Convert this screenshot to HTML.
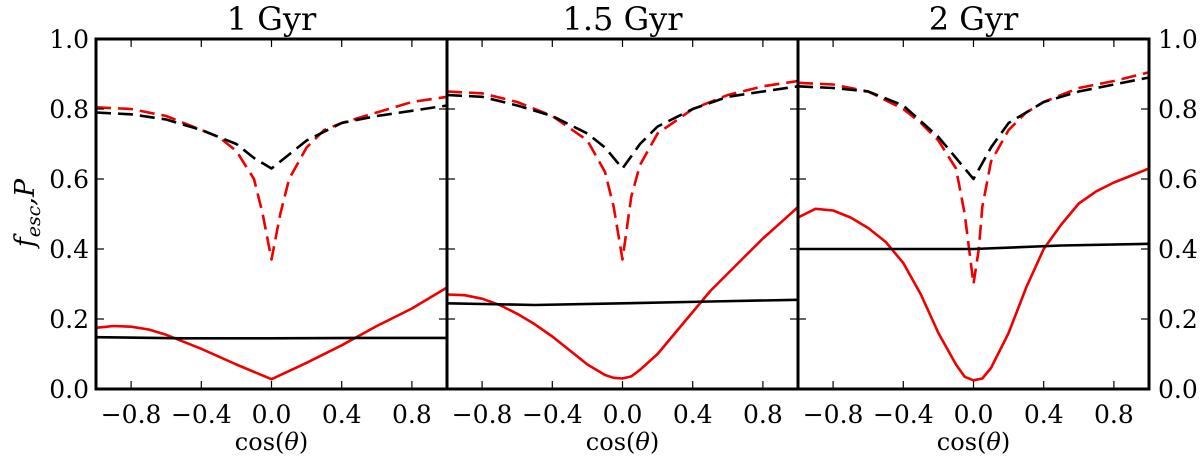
<!DOCTYPE html>
<html><head><meta charset="utf-8"><style>
body{margin:0;background:#fff}
svg{display:block}
text{font-family:"DejaVu Serif","Liberation Serif",serif;fill:#000}
</style></head><body>
<svg id="chart" width="1200" height="461" xmlns="http://www.w3.org/2000/svg"></svg>
<script>
const panelTitles=["1 Gyr","1.5 Gyr","2 Gyr"];
const xTicks=[-0.8,-0.4,0.0,0.4,0.8];
const yTicks=[0.0,0.2,0.4,0.6,0.8,1.0];
// panel 1
const p1RedDashX=[-1,-0.8,-0.6,-0.4,-0.3,-0.2,-0.1,-0.05,0,0.05,0.1,0.2,0.3,0.4,0.6,0.8,1];
const p1RedDashY=[0.805,0.80,0.78,0.74,0.72,0.68,0.60,0.50,0.37,0.50,0.60,0.69,0.74,0.76,0.79,0.82,0.835];
const p1BlkDashX=[-1,-0.8,-0.6,-0.4,-0.2,-0.1,0,0.1,0.2,0.4,0.6,0.8,1];
const p1BlkDashY=[0.79,0.785,0.77,0.74,0.70,0.66,0.63,0.67,0.71,0.76,0.78,0.795,0.81];
const p1RedX=[-1,-0.9,-0.8,-0.7,-0.6,-0.4,-0.2,0,0.2,0.4,0.6,0.8,1];
const p1RedY=[0.175,0.18,0.178,0.17,0.155,0.115,0.07,0.028,0.075,0.125,0.18,0.23,0.29];
const p1BlkX=[-1,-0.5,0,0.5,1];
const p1BlkY=[0.148,0.145,0.145,0.146,0.146];
// panel 2
const p2RedDashX=[-1,-0.8,-0.6,-0.4,-0.2,-0.1,-0.05,0,0.05,0.1,0.2,0.4,0.6,0.8,1];
const p2RedDashY=[0.85,0.845,0.82,0.78,0.71,0.62,0.52,0.37,0.55,0.64,0.73,0.80,0.84,0.865,0.88];
const p2BlkDashX=[-1,-0.8,-0.6,-0.4,-0.2,-0.1,0,0.1,0.2,0.4,0.6,0.8,1];
const p2BlkDashY=[0.84,0.835,0.81,0.78,0.73,0.69,0.63,0.70,0.75,0.80,0.835,0.85,0.865];
const p2RedX=[-1,-0.9,-0.8,-0.7,-0.6,-0.5,-0.4,-0.3,-0.2,-0.1,-0.05,0,0.05,0.1,0.2,0.3,0.4,0.5,0.6,0.7,0.8,0.9,1];
const p2RedY=[0.27,0.268,0.258,0.24,0.215,0.185,0.15,0.11,0.07,0.04,0.032,0.03,0.036,0.055,0.10,0.16,0.22,0.28,0.33,0.38,0.43,0.475,0.52];
const p2BlkX=[-1,-0.5,0,0.5,1];
const p2BlkY=[0.245,0.24,0.245,0.25,0.255];
// panel 3
const p3RedDashX=[-1,-0.8,-0.6,-0.4,-0.3,-0.2,-0.1,-0.05,0,0.03,0.05,0.1,0.2,0.3,0.4,0.6,0.8,1];
const p3RedDashY=[0.875,0.87,0.85,0.80,0.76,0.71,0.63,0.50,0.30,0.40,0.52,0.65,0.74,0.79,0.82,0.86,0.88,0.905];
const p3BlkDashX=[-1,-0.8,-0.6,-0.4,-0.2,-0.1,0,0.1,0.2,0.4,0.6,0.8,1];
const p3BlkDashY=[0.865,0.86,0.85,0.81,0.72,0.66,0.60,0.69,0.76,0.82,0.85,0.87,0.89];
const p3RedX=[-1,-0.9,-0.8,-0.7,-0.6,-0.5,-0.4,-0.3,-0.2,-0.1,-0.05,0,0.05,0.1,0.2,0.3,0.4,0.5,0.6,0.7,0.8,0.9,1];
const p3RedY=[0.49,0.515,0.51,0.49,0.46,0.42,0.36,0.27,0.16,0.07,0.035,0.025,0.03,0.06,0.16,0.29,0.40,0.47,0.53,0.565,0.59,0.61,0.63];
const p3BlkX=[-1,-0.5,0,0.5,1];
const p3BlkY=[0.40,0.40,0.40,0.41,0.415];

const NS="http://www.w3.org/2000/svg";
const svg=document.getElementById('chart');
const panelLeft=[96,447,798], panelW=351, yTop=39, yBot=389;
function el(t,a){const e=document.createElementNS(NS,t);for(const k in a)e.setAttribute(k,a[k]);svg.appendChild(e);return e;}
const panels=[
 [[p1RedDashX,p1RedDashY],[p1BlkDashX,p1BlkDashY],[p1RedX,p1RedY],[p1BlkX,p1BlkY]],
 [[p2RedDashX,p2RedDashY],[p2BlkDashX,p2BlkDashY],[p2RedX,p2RedY],[p2BlkX,p2BlkY]],
 [[p3RedDashX,p3RedDashY],[p3BlkDashX,p3BlkDashY],[p3RedX,p3RedY],[p3BlkX,p3BlkY]]];
const styles=[["#e00",true,"red-dashed-curve"],["#000",true,"black-dashed-curve"],["#e00",false,"red-solid-curve"],["#000",false,"black-solid-curve"]];
panels.forEach((series,i)=>{
 const L=panelLeft[i];
 const xs=v=>L+(v+1)/2*panelW, ys=v=>yBot-v*(yBot-yTop);
 series.forEach((s,j)=>{
  const d=s[0].map((x,k)=>(k?'L':'M')+xs(x).toFixed(1)+','+ys(s[1][k]).toFixed(1)).join('');
  const p=el('path',{d:d,fill:'none',stroke:styles[j][0],'stroke-width':2.6,'stroke-linejoin':'round','stroke-dasharray':styles[j][1]?'15,7':'none'});
  
  
 });
 xTicks.forEach(t=>{
  const X=xs(t);
  el('line',{x1:X,x2:X,y1:yBot,y2:yBot-8,stroke:'#000','stroke-width':1.2});
  el('line',{x1:X,x2:X,y1:yTop,y2:yTop+8,stroke:'#000','stroke-width':1.2});
  const tx=el('text',{x:X,y:yBot+34,'text-anchor':'middle','font-size':25});
  tx.textContent=(t<0?'\u2212':'')+Math.abs(t).toFixed(1);
  
  
 });
 yTicks.forEach(t=>{
  const Y=ys(t);
  el('line',{x1:L,x2:L+8,y1:Y,y2:Y,stroke:'#000','stroke-width':1.2});
  el('line',{x1:L+panelW,x2:L+panelW-8,y1:Y,y2:Y,stroke:'#000','stroke-width':1.2});
 });
 const r=el('rect',{x:L,y:yTop,width:panelW,height:yBot-yTop,fill:'none',stroke:'#000','stroke-width':3});
 
 
 const ti=el('text',{x:L+panelW/2,y:30,'text-anchor':'middle','font-size':32});
 ti.textContent=panelTitles[i];
 
 
 const xl=el('text',{x:L+panelW/2,y:450,'text-anchor':'middle','font-size':24});
 xl.innerHTML='cos(<tspan font-style="italic">θ</tspan>)';
 
 
});
yTicks.forEach(t=>{
 const Y=yBot-t*(yBot-yTop)+9;
 const a=el('text',{x:89,y:Y,'text-anchor':'end','font-size':25});a.textContent=t.toFixed(1);
 
 
 const b=el('text',{x:1158,y:Y,'text-anchor':'start','font-size':25});b.textContent=t.toFixed(1);
 
 
});
const yl=el('text',{x:0,y:0,'text-anchor':'middle','font-size':27,'font-style':'italic',transform:'translate(34,213) rotate(-90)'});
yl.innerHTML='f<tspan font-size="19" dy="6">esc</tspan><tspan dy="-6">,P</tspan>';


</script>
</body></html>
